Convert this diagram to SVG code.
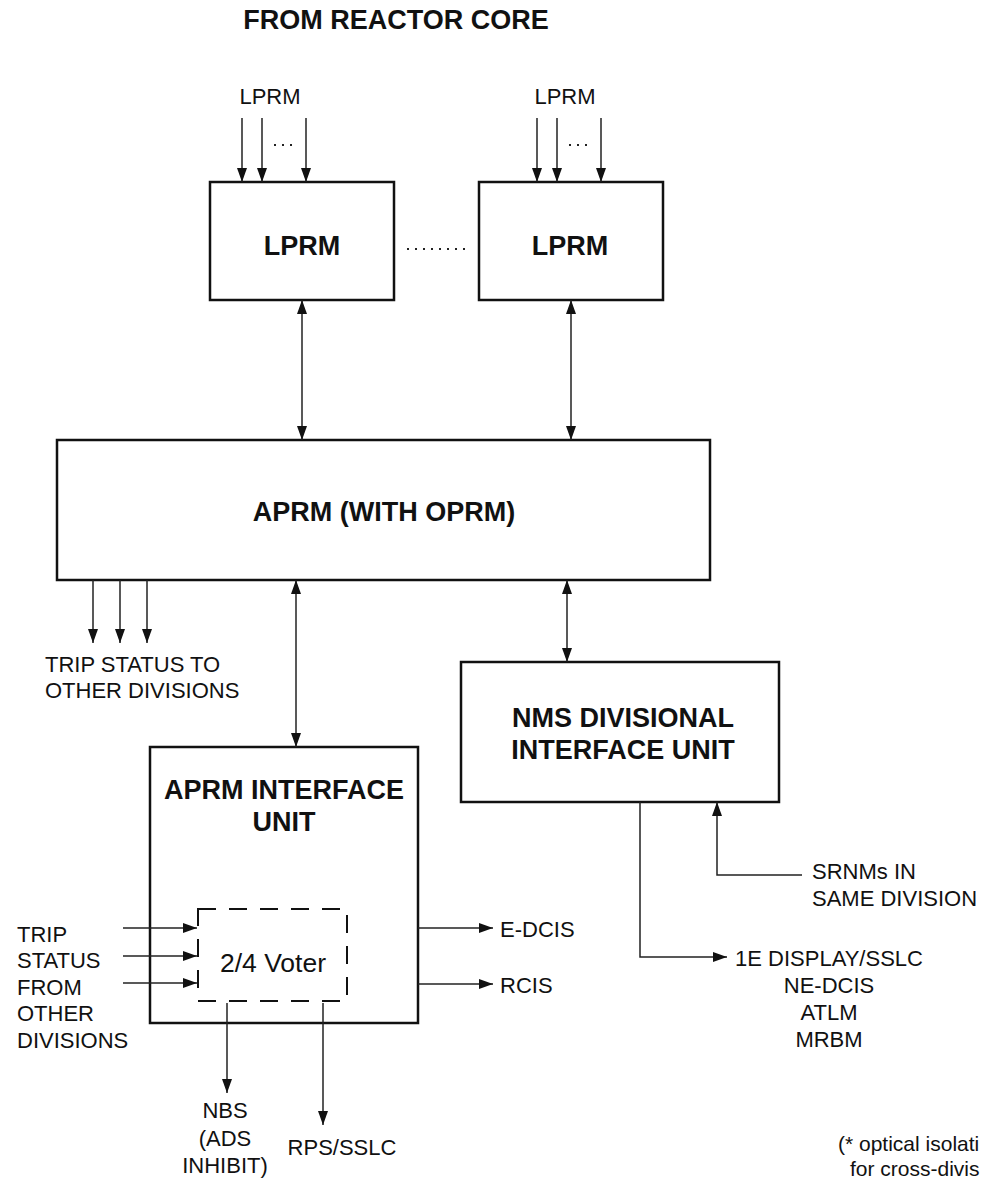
<svg xmlns="http://www.w3.org/2000/svg" width="988" height="1179" viewBox="0 0 988 1179">
  <defs>
    <marker id="ah" markerWidth="14" markerHeight="10" refX="14" refY="5" orient="auto-start-reverse" markerUnits="userSpaceOnUse">
      <path d="M0,0 L14,5 L0,10 z" fill="#111"/>
    </marker>
    <style>
      .box { fill: #fff; stroke: #111; stroke-width: 2.5; }
      .dash { fill: none; stroke: #111; stroke-width: 2; stroke-dasharray: 18 13; }
      .ln { fill: none; stroke: #222; stroke-width: 1.5; }
      .arr { fill: none; stroke: #222; stroke-width: 1.5; marker-end: url(#ah); }
      .bi { fill: none; stroke: #222; stroke-width: 1.5; marker-start: url(#ah); marker-end: url(#ah); }
      .b { font-family: "Liberation Sans", Arial, sans-serif; font-weight: bold; font-size: 27px; fill: #111; }
      .t { font-family: "Liberation Sans", Arial, sans-serif; font-size: 22px; fill: #111; }
      .fn { font-size: 21px; }
      .c { text-anchor: middle; }
    </style>
  </defs>
  <rect width="988" height="1179" fill="#fff"/>

  <text class="b c" x="396" y="29">FROM REACTOR CORE</text>

  <g id="lprm1">
    <rect class="box" x="210" y="182" width="184" height="118"/>
    <text class="b c" x="302" y="255">LPRM</text>
  </g>
  <g id="lprm2">
    <rect class="box" x="479" y="182" width="184" height="118"/>
    <text class="b c" x="570" y="255">LPRM</text>
  </g>
  <g id="aprm">
    <rect class="box" x="57" y="440" width="653" height="140"/>
    <text class="b c" x="384" y="521">APRM (WITH OPRM)</text>
  </g>
  <g id="nms">
    <rect class="box" x="461" y="662" width="318" height="140"/>
    <text class="b c" x="623" y="727">NMS DIVISIONAL</text>
    <text class="b c" x="623" y="759">INTERFACE UNIT</text>
  </g>
  <g id="aprm-iu">
    <rect class="box" x="150" y="747" width="268" height="276"/>
    <text class="b c" x="284" y="799">APRM INTERFACE</text>
    <text class="b c" x="284" y="831">UNIT</text>
  </g>
  <g id="voter">
    <rect class="dash" x="198" y="909" width="149" height="92"/>
    <text class="t c" x="273" y="972" style="font-size:26.5px">2/4 Voter</text>
  </g>

  <g id="labels">
    <text class="t c" x="270" y="104">LPRM</text>
    <text class="t c" x="565" y="104">LPRM</text>
    <text class="t" x="45" y="672">TRIP STATUS TO</text>
    <text class="t" x="45" y="698">OTHER DIVISIONS</text>
    <text class="t" x="17" y="942">TRIP</text>
    <text class="t" x="17" y="968">STATUS</text>
    <text class="t" x="17" y="995">FROM</text>
    <text class="t" x="17" y="1021">OTHER</text>
    <text class="t" x="17" y="1048">DIVISIONS</text>
    <text class="t" x="500" y="937">E-DCIS</text>
    <text class="t" x="500" y="993">RCIS</text>
    <text class="t c" x="225" y="1118">NBS</text>
    <text class="t c" x="225" y="1146">(ADS</text>
    <text class="t c" x="225" y="1173">INHIBIT)</text>
    <text class="t c" x="342" y="1155">RPS/SSLC</text>
    <text class="t" x="812" y="879">SRNMs IN</text>
    <text class="t" x="812" y="906">SAME DIVISION</text>
    <text class="t c" x="829" y="966">1E DISPLAY/SSLC</text>
    <text class="t c" x="829" y="993">NE-DCIS</text>
    <text class="t c" x="829" y="1020">ATLM</text>
    <text class="t c" x="829" y="1047">MRBM</text>
    <text class="t fn" x="838" y="1151">(* optical isolati</text>
    <text class="t fn" x="850" y="1176">for cross-divis</text>
  </g>

  <g id="connectors">
    <line class="arr" x1="242" y1="118" x2="242" y2="182"/>
    <line class="arr" x1="262" y1="118" x2="262" y2="182"/>
    <line class="arr" x1="306" y1="118" x2="306" y2="182"/>
    <line class="arr" x1="537" y1="118" x2="537" y2="182"/>
    <line class="arr" x1="557" y1="118" x2="557" y2="182"/>
    <line class="arr" x1="601" y1="118" x2="601" y2="182"/>
    <line x1="274" y1="145" x2="294" y2="145" stroke="#222" stroke-width="2" stroke-dasharray="2 6"/>
    <line x1="569" y1="145" x2="589" y2="145" stroke="#222" stroke-width="2" stroke-dasharray="2 6"/>
    <line x1="407" y1="249" x2="465" y2="249" stroke="#222" stroke-width="2" stroke-dasharray="2 6"/>
    <line class="bi" x1="302" y1="300" x2="302" y2="440"/>
    <line class="bi" x1="571" y1="300" x2="571" y2="440"/>
    <line class="arr" x1="93" y1="580" x2="93" y2="643"/>
    <line class="arr" x1="120" y1="580" x2="120" y2="643"/>
    <line class="arr" x1="147" y1="580" x2="147" y2="643"/>
    <line class="bi" x1="296" y1="580" x2="296" y2="747"/>
    <line class="bi" x1="567" y1="580" x2="567" y2="662"/>
    <line class="arr" x1="123" y1="928" x2="197" y2="928"/>
    <line class="arr" x1="123" y1="956" x2="197" y2="956"/>
    <line class="arr" x1="123" y1="983" x2="197" y2="983"/>
    <line class="arr" x1="418" y1="928" x2="493" y2="928"/>
    <line class="arr" x1="418" y1="984" x2="493" y2="984"/>
    <line class="arr" x1="227" y1="1003" x2="227" y2="1093"/>
    <line class="arr" x1="323" y1="1003" x2="323" y2="1125"/>
    <polyline class="arr" points="640,802 640,957 727,957"/>
    <polyline class="arr" points="802,875 717,875 717,802"/>
  </g>
</svg>
